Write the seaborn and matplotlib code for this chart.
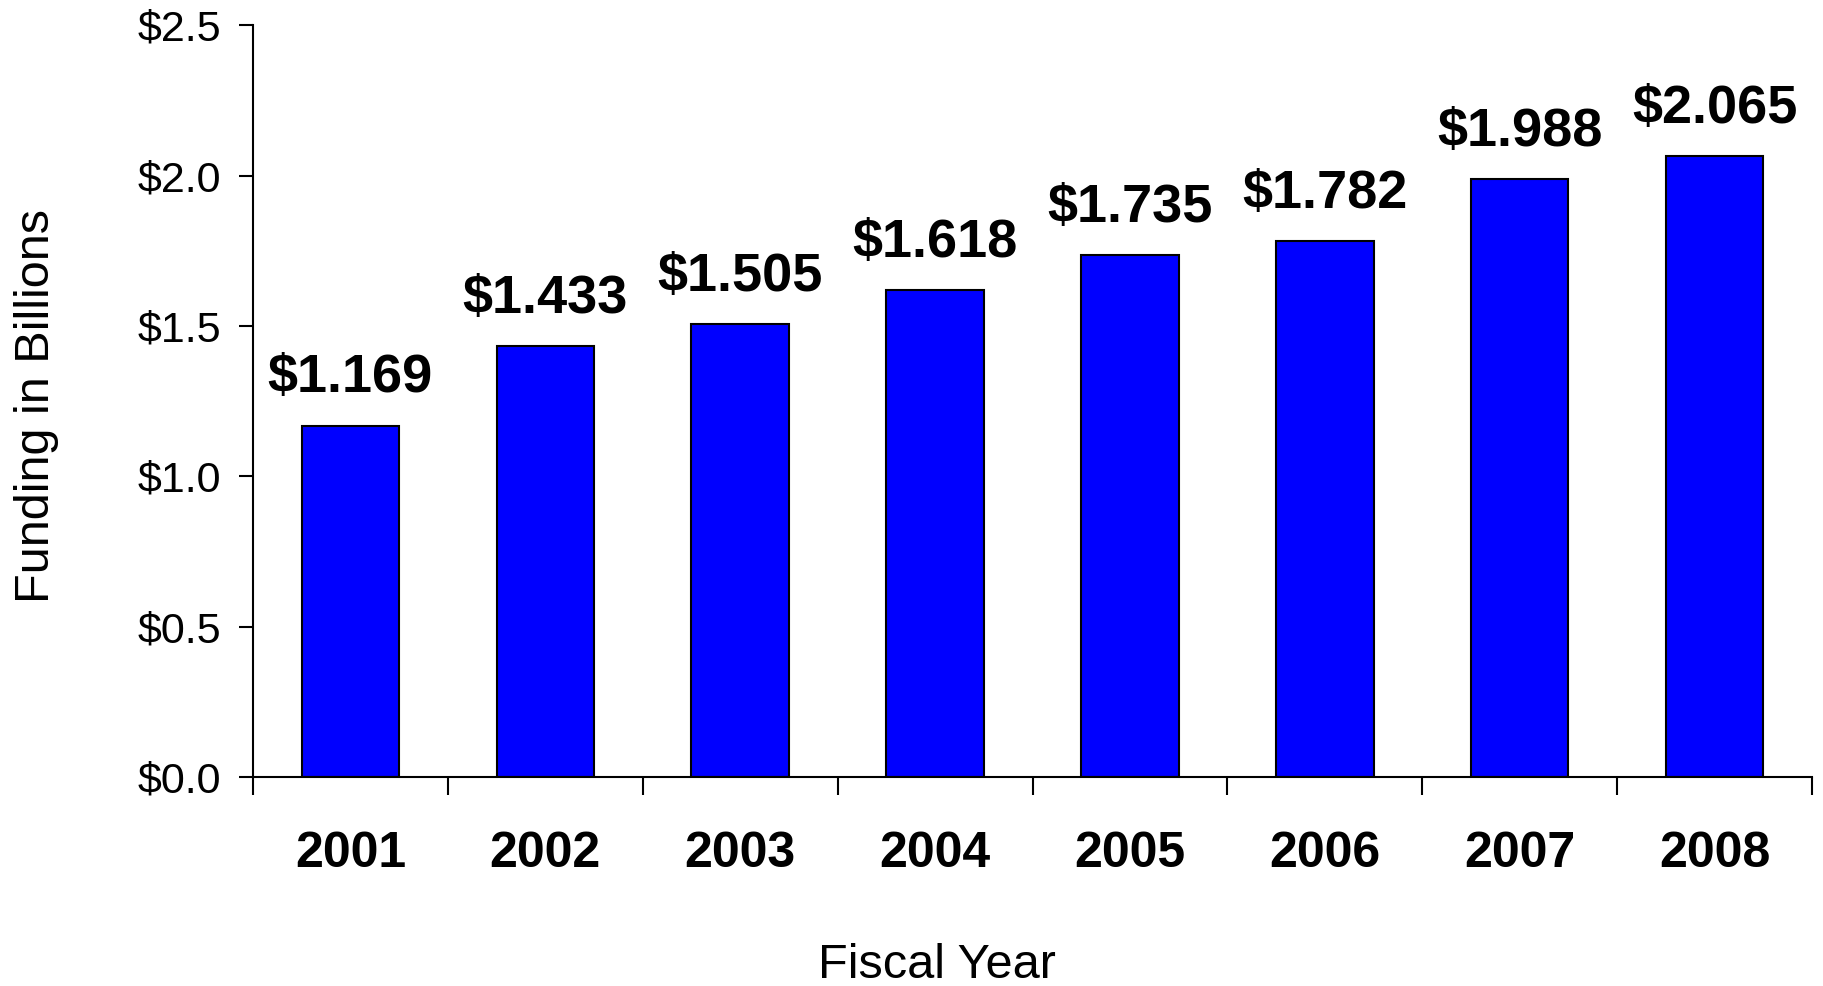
import matplotlib
matplotlib.use("Agg")
import matplotlib.pyplot as plt
import seaborn as sns
import pandas as pd
import numpy as np
from matplotlib.ticker import FixedLocator, FuncFormatter

years = ["2001", "2002", "2003", "2004", "2005", "2006", "2007", "2008"]
funding = [1.169, 1.433, 1.505, 1.618, 1.735, 1.782, 1.988, 2.065]
bar_labels = ["$1.169", "$1.433", "$1.505", "$1.618", "$1.735", "$1.782", "$1.988", "$2.065"]
y_ticks = [0.0, 0.5, 1.0, 1.5, 2.0, 2.5]

sns.set_theme(style="white")
plt.rcParams['font.family'] = ['Liberation Sans', 'DejaVu Sans']
plt.rcParams['text.color'] = 'black'
plt.rcParams['xtick.color'] = 'black'
plt.rcParams['ytick.color'] = 'black'

df = pd.DataFrame({"Year": years, "Funding": funding})

fig = plt.figure(figsize=(18.23, 9.86), dpi=100)
ax = fig.add_axes([253/1823, 1-777/986, (1812-253)/1823, (777-25.3)/986])

sns.barplot(data=df, x="Year", y="Funding", color="#0000FF", saturation=1,
            width=0.5, edgecolor="black", linewidth=1.5, ax=ax)

ax.set_xlim(-0.5, len(years) - 0.5)
ax.set_ylim(0, 2.5)
ax.set_yticks(y_ticks)
ax.yaxis.set_major_formatter(FuncFormatter(lambda v, p: f"${v:.1f}"))

ax.set_xticks(range(len(years)))
ax.set_xticklabels(years, fontsize=36, fontweight="bold", color="black")
ax.xaxis.set_minor_locator(FixedLocator(np.arange(-0.5, len(years), 1.0)))
ax.tick_params(axis="x", which="major", length=0, pad=39, labelcolor="black")
ax.tick_params(axis="x", which="minor", length=13, width=1.5, color="black", direction="out", bottom=True)
ax.tick_params(axis="y", which="major", length=10, width=1.5, color="black", direction="out",
               left=True, labelsize=31, pad=13, labelcolor="black")

for s in ["top", "right"]:
    ax.spines[s].set_visible(False)
for s in ["left", "bottom"]:
    ax.spines[s].set_color("black")
    ax.spines[s].set_linewidth(1.5)

ax.set_xlabel("")
ax.set_ylabel("")

for i, (v, lab) in enumerate(zip(funding, bar_labels)):
    ax.annotate(lab, xy=(i, v), xytext=(0, 24), textcoords="offset points",
                ha="center", va="baseline", fontsize=39, fontweight="bold", color="black")

fig.text(937/1823, 1-965/986, "Fiscal Year", ha="center", va="center", fontsize=35, color="black")
fig.text(37/1823, 1-406/986, "Funding in Billions", ha="center", va="center",
         rotation=90, fontsize=35, color="black")

fig.savefig("out.png", dpi=100, facecolor="white")
